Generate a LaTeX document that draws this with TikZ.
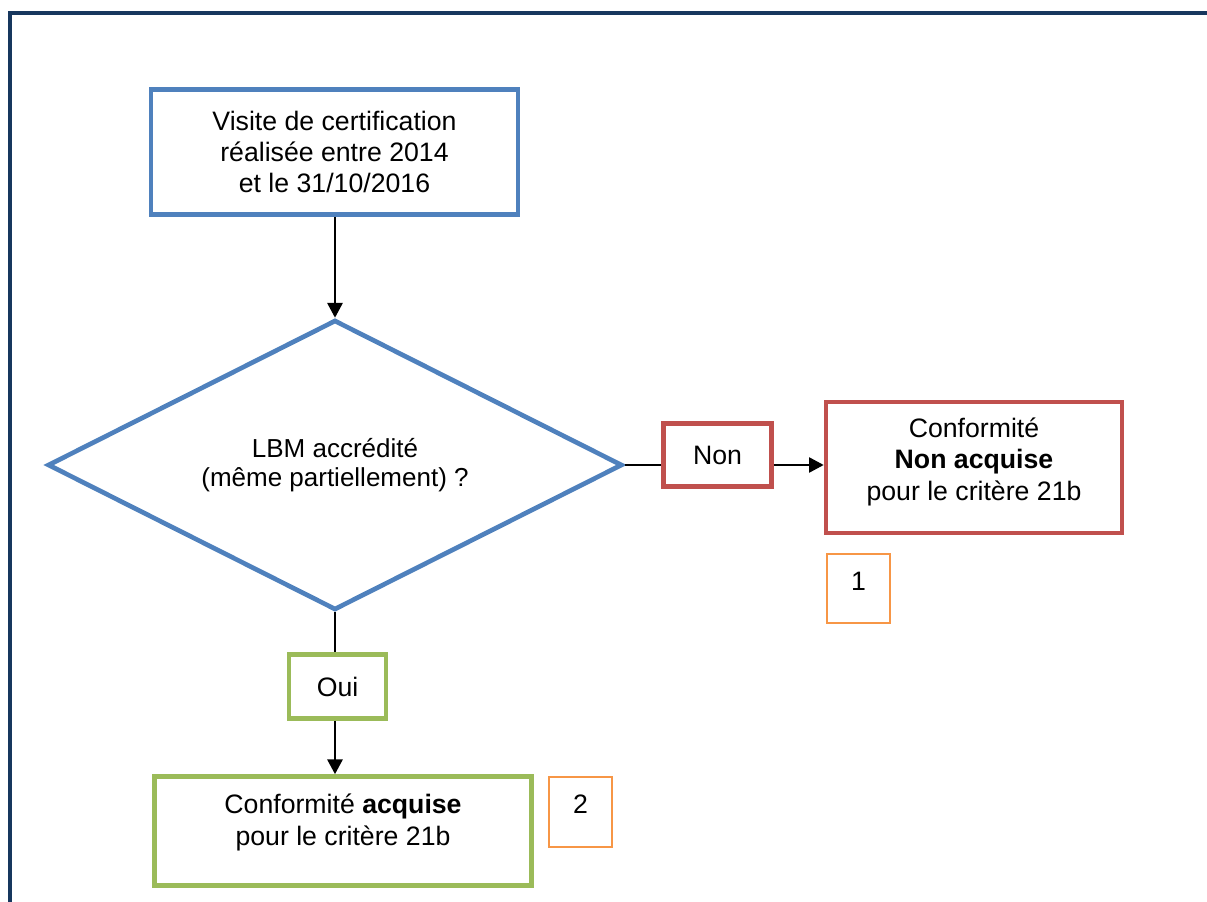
\documentclass[tikz,border=0pt]{standalone}
\usepackage{fontspec}
\setmainfont{Liberation Sans}
\usetikzlibrary{shapes.geometric,arrows.meta}
\definecolor{bleu}{HTML}{4F81BD}
\definecolor{rouge}{HTML}{C0504D}
\definecolor{vert}{HTML}{9BBB59}
\definecolor{orange}{HTML}{F79646}
\definecolor{marine}{HTML}{17375E}
\begin{document}
\begin{tikzpicture}[x=0.75pt,y=-0.75pt,
  txt/.style={font=\fontsize{20}{23.5}\selectfont, align=center},
  boite/.style={draw, line width=3.5pt, txt, inner sep=0pt},
  numero/.style={draw=orange, line width=1.1pt, txt, inner sep=0pt, minimum width=47.25pt, text height=27pt},
  trait/.style={line width=1.2pt},
  fleche/.style={trait, -{Triangle[length=11pt,width=11.5pt]}}]
\useasboundingbox (0,0) rectangle (1207,902);
\draw[marine, line width=2.4pt] (10,902) -- (10,13) -- (1207,13);
\node[boite, draw=bleu, minimum width=275.25pt, minimum height=93.75pt] (visite) at (334.5,152)
  {Visite de certification\\réalisée entre 2014\\et le 31/10/2016};
\node[diamond, aspect=2, draw=bleu, line width=3.5pt, inner sep=0pt, minimum width=431pt, minimum height=217.5pt,
  font=\fontsize{19.5}{21.75}\selectfont, align=center] (lbm) at (335,465)
  {LBM accrédité\\(même partiellement) ?};
\node[boite, draw=rouge, minimum width=81pt, minimum height=47.25pt] (non) at (717.5,455) {Non};
\node[boite, draw=rouge, minimum width=222pt, text height=73.5pt, text depth=24.75pt] (nonacq) at (974,467.5)
  {Conformité\\\textbf{Non acquise}\\pour le critère 21b};
\node[numero, minimum height=51.75pt, text depth=24.75pt] (un) at (858.5,588.5) {1};
\node[boite, draw=vert, minimum width=72.75pt, minimum height=48pt] (oui) at (337.5,686.5) {Oui};
\node[boite, draw=vert, minimum width=282.75pt, text height=51.5pt, text depth=30.3pt] (acq) at (343,831)
  {Conformité \textbf{acquise}\\pour le critère 21b};
\node[numero, minimum height=52.5pt, text depth=25.5pt] (deux) at (580.5,812) {2};
% liaisons
\draw[fleche] (visite.south -| lbm.north) -- (lbm.north);
\draw[trait] (lbm.east) -- (lbm.east -| non.west);
\draw[fleche] (non.east |- lbm.east) -- (nonacq.west |- lbm.east);
\draw[trait] (lbm.south) -- (lbm.south |- oui.north);
\draw[fleche] (oui.south -| lbm.south) -- (acq.north -| lbm.south);
\end{tikzpicture}
\end{document}
